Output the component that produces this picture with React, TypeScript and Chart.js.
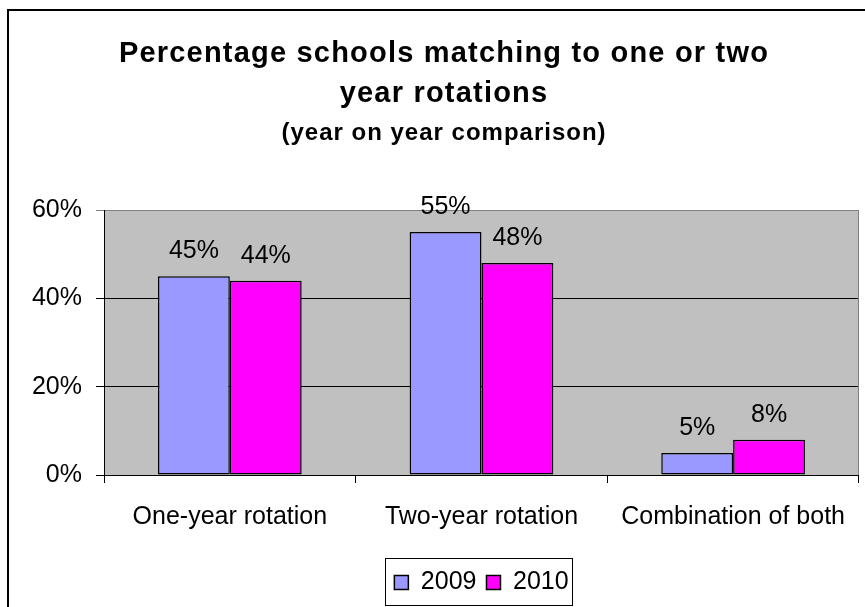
import React, { useEffect, useRef } from "react";
import { Chart, registerables } from "chart.js";

Chart.register(...registerables);

const categories = ["One-year rotation", "Two-year rotation", "Combination of both"];
const seriesNames = ["2009", "2010"];
const values2009 = [45, 55, 5];
const values2010 = [44, 48, 8];
const yTicks = [0, 20, 40, 60];
const titleLines = ["Percentage schools matching to one or two", "year rotations"];
const subtitle = "(year on year comparison)";

const FONT = "'Liberation Sans', Arial, sans-serif";

const frame = {
  id: "frame",
  beforeDraw(chart: any) {
    const { ctx, chartArea: a } = chart;
    ctx.save();
    ctx.fillStyle = "#C0C0C0";
    ctx.fillRect(a.left, a.top, a.right - a.left, a.bottom - a.top);
    ctx.restore();
  },
  beforeDatasetsDraw(chart: any) {
    const { ctx, chartArea: a } = chart;
    ctx.save();
    ctx.strokeStyle = "#808080";
    ctx.lineWidth = 1;
    ctx.beginPath();
    ctx.moveTo(Math.round(a.right) - 0.5, a.top);
    ctx.lineTo(Math.round(a.right) - 0.5, a.bottom);
    ctx.stroke();
    ctx.restore();
  },
  afterDraw(chart: any) {
    const { ctx, width, height } = chart;
    ctx.save();
    ctx.fillStyle = "#000";
    ctx.fillRect(7, 9, 2, height - 9);
    ctx.fillRect(7, 9, width - 7, 2);
    // titles
    ctx.textAlign = "center";
    ctx.textBaseline = "alphabetic";
    ctx.font = `bold 29px ${FONT}`;
    (ctx as any).letterSpacing = "1.2px";
    ctx.fillText(titleLines[0], 444, 62);
    ctx.fillText(titleLines[1], 444, 102);
    ctx.font = `bold 24px ${FONT}`;
    (ctx as any).letterSpacing = "1px";
    ctx.fillText(subtitle, 444, 140);
    (ctx as any).letterSpacing = "0px";
    // legend frame
    const lg = chart.legend;
    if (lg && lg.legendHitBoxes && lg.legendHitBoxes.length) {
      const hb = lg.legendHitBoxes;
      const l = hb[0].left - 9;
      const r = hb[hb.length - 1].left + hb[hb.length - 1].width + 4;
      const t = hb[0].top - 12;
      const b = hb[0].top + hb[0].height + 10;
      ctx.strokeStyle = "#000";
      ctx.lineWidth = 1;
      ctx.strokeRect(Math.round(l) + 0.5, Math.round(t) + 0.5, Math.round(r - l), Math.round(b - t));
    }
    ctx.restore();
  },
};

const valueLabels = {
  id: "valueLabels",
  afterDatasetsDraw(chart: any) {
    const { ctx } = chart;
    ctx.save();
    ctx.font = `25px ${FONT}`;
    ctx.fillStyle = "#000";
    ctx.textAlign = "center";
    ctx.textBaseline = "alphabetic";
    chart.data.datasets.forEach((ds: any, i: number) => {
      const meta = chart.getDatasetMeta(i);
      meta.data.forEach((el: any, j: number) => {
        ctx.fillText(`${ds.data[j]}%`, el.x, el.y - 18);
      });
    });
    ctx.restore();
  },
};

export default function App() {
  const ref = useRef<HTMLCanvasElement>(null);
  useEffect(() => {
    if (!ref.current) return;
    const chart = new Chart(ref.current, {
      type: "bar",
      data: {
        labels: categories,
        datasets: [
          {
            label: seriesNames[0],
            data: values2009,
            backgroundColor: "#9999FF",
            borderColor: "#000000",
            borderWidth: 1.5,
            borderSkipped: false,
          },
          {
            label: seriesNames[1],
            data: values2010,
            backgroundColor: "#FF00FF",
            borderColor: "#000000",
            borderWidth: 1.5,
            borderSkipped: false,
          },
        ],
      },
      options: {
        responsive: false,
        animation: false,
        layout: { padding: { top: 210, left: 0, right: 6, bottom: 2 } },
        datasets: { bar: { categoryPercentage: 0.571, barPercentage: 1 } },
        plugins: {
          title: { display: false },
          tooltip: { enabled: false },
          legend: {
            display: true,
            position: "bottom",
            fullSize: false,
            labels: {
              color: "#000",
              font: { family: FONT, size: 25 },
              boxWidth: 14,
              boxHeight: 14,
              padding: 10,
            },
          },
        },
        scales: {
          x: {
            offset: true,
            grid: {
              offset: true,
              drawOnChartArea: false,
              drawTicks: true,
              tickLength: 8,
              color: "#000",
            },
            border: { display: true, color: "#000", width: 1 },
            ticks: { color: "#000", font: { family: FONT, size: 25 }, padding: 19, maxRotation: 0 },
            afterFit(scale: any) {
              scale.height = 85;
            },
          },
          y: {
            min: 0,
            max: 60,
            afterBuildTicks(scale: any) {
              scale.ticks = yTicks.map((v) => ({ value: v }));
            },
            grid: {
              color: (c: any) => (c.tick && c.tick.value === 60 ? "#808080" : "#000"),
              tickLength: 8,
              drawTicks: true,
            },
            border: { display: true, color: "#000", width: 1 },
            ticks: {
              color: "#000",
              font: { family: FONT, size: 25 },
              padding: 14,
              callback: (v: any) => `${v}%`,
            },
            afterFit(scale: any) {
              scale.width = 104;
            },
          },
        },
      },
      plugins: [frame, valueLabels],
    });
    return () => chart.destroy();
  }, []);
  return (
    <div style={{ position: "absolute", left: 0, top: 0, width: 865, height: 607, background: "#fff" }}>
      <canvas ref={ref} width={865} height={607} />
    </div>
  );
}
